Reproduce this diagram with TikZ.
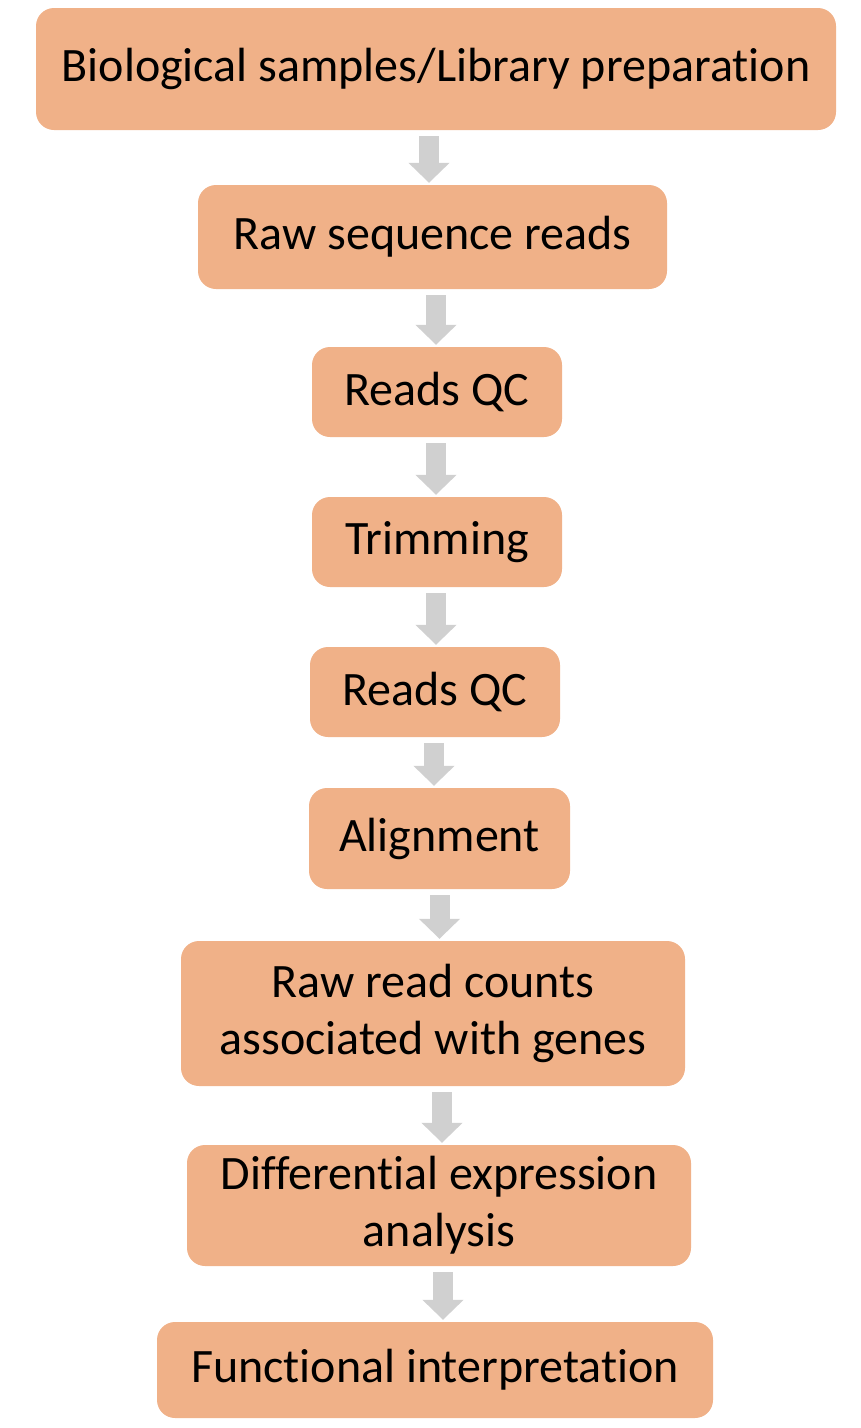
\documentclass[tikz,border=0pt]{standalone}
\usepackage{fontspec}
\setmainfont{Carlito}[Ligatures=CommonOff]
\usetikzlibrary{arrows.meta}
\definecolor{boxfill}{RGB}{240,177,136}
\definecolor{arrowgray}{RGB}{208,208,208}
\tikzset{
  stepbox/.style={fill=boxfill, rounded corners=18pt, align=center, inner sep=0pt,
                  font=\fontsize{48}{57}\selectfont},
  flow/.style={draw=arrowgray, line width=20pt, -{Triangle[width=40pt,length=20pt]},
               shorten <=6pt, shorten >=2pt}
}
\begin{document}
\begin{tikzpicture}[x=1pt,y=-1pt]
      \useasboundingbox (0,0) rectangle (861,1428);
      \node[stepbox, minimum width=800pt, minimum height=122pt] (bio) at (436,69) {Biological samples/Library preparation};
      \node[stepbox, minimum width=469pt, minimum height=104pt] (raw) at (432.5,237) {Raw sequence reads};
      \node[stepbox, minimum width=250pt, minimum height=90pt] (qca) at (437,392) {Reads QC};
      \node[stepbox, minimum width=250pt, minimum height=90pt] (trim) at (437,542) {Trimming};
      \node[stepbox, minimum width=250pt, minimum height=90pt] (qcb) at (435,692) {Reads QC};
      \node[stepbox, minimum width=261pt, minimum height=101pt] (align) at (439.5,838.5) {Alignment};
      \node[stepbox, minimum width=504pt, minimum height=145pt] (counts) at (433,1013.5) {Raw read counts\\associated with genes};
      \node[stepbox, minimum width=504pt, minimum height=121pt] (dea) at (439,1205.5) {Differential expression\\analysis};
      \node[stepbox, minimum width=556pt, minimum height=96pt] (func) at (435,1370) {Functional interpretation};
      \draw[flow] ([xshift=-7pt]bio.south) -- ([xshift=-7pt]bio.south |- raw.north);
      \draw[flow] ([xshift=3.5pt]raw.south) -- ([xshift=3.5pt]raw.south |- qca.north);
      \draw[flow] ([xshift=-1pt]qca.south) -- ([xshift=-1pt]qca.south |- trim.north);
      \draw[flow] ([xshift=-1pt]trim.south) -- ([xshift=-1pt]trim.south |- qcb.north);
      \draw[flow] ([xshift=-1pt]qcb.south) -- ([xshift=-1pt]qcb.south |- align.north);
      \draw[flow] (align.south) -- (align.south |- counts.north);
      \draw[flow] ([xshift=9pt]counts.south) -- ([xshift=9pt]counts.south |- dea.north);
      \draw[flow] ([xshift=4pt]dea.south) -- ([xshift=4pt]dea.south |- func.north);
    \end{tikzpicture}
\end{document}
